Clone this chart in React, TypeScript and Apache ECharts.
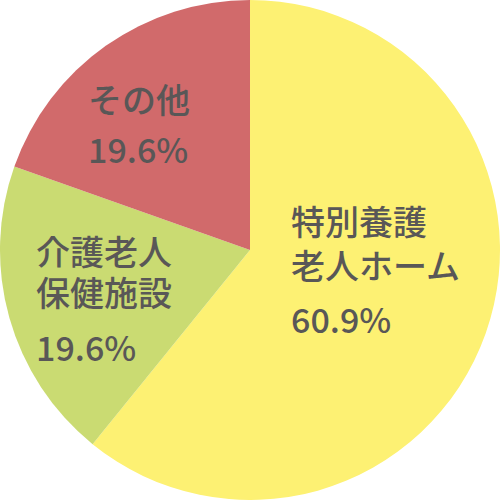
// 円グラフ：施設の種類別の割合（特養・老健・その他）
import { useEffect, useRef } from 'react'
import * as echarts from 'echarts'

const CATEGORIES = ['特別養護\n老人ホーム', '介護老人\n保健施設', 'その他']
const VALUES = [60.9, 19.6, 19.6]
const COLORS = ['#fdf173', '#cadb72', '#d16a6b']

// ラベルの置き場所（左端の x、名前の1行目の中心 y、行の高さ、パーセント行の中心 y）
const LABEL_POS = [
  { x: 291, nameY: 223, lineH: 44, pctY: 318 },
  { x: 36, nameY: 253, lineH: 41, pctY: 346 },
  { x: 88, nameY: 101, lineH: 44, pctY: 148 },
]

const TEXT_COLOR = '#595757'
const FONT = '"Noto Sans CJK JP", sans-serif'
// 名前の行：行送りが詰まっているので、行の箱が低いフォントを先頭に置く（漢字・かなは Noto に落ちる）
const NAME_FONT = '"DejaVu Sans", "Noto Sans CJK JP", sans-serif'

export default function App() {
  const ref = useRef<HTMLDivElement>(null)

  useEffect(() => {
    if (!ref.current) return
    const chart = echarts.init(ref.current, undefined, { renderer: 'svg' })

    // 各扇形のラベル：名前（複数行をひとつのテキストで）+ パーセント
    const labels: any[] = []
    CATEGORIES.forEach((name, i) => {
      const pos = LABEL_POS[i]
      labels.push({
        type: 'text',
        x: pos.x,
        y: pos.nameY - pos.lineH / 2,
        style: {
          text: name,
          fill: TEXT_COLOR,
          font: `500 34px ${NAME_FONT}`,
          lineHeight: pos.lineH,
          textAlign: 'left',
          textVerticalAlign: 'top',
        },
        z: 10,
      })
      labels.push({
        type: 'text',
        x: pos.x,
        y: pos.pctY,
        style: {
          text: `${VALUES[i].toFixed(1)}%`,
          fill: TEXT_COLOR,
          font: `500 34px ${FONT}`,
          textAlign: 'left',
          textVerticalAlign: 'middle',
        },
        z: 10,
      })
    })

    chart.setOption({
      animation: false,
      backgroundColor: '#ffffff',
      series: [
        {
          type: 'pie',
          center: [250, 250],
          radius: [0, 250],
          startAngle: 90,
          clockwise: true,
          label: { show: false },
          labelLine: { show: false },
          emphasis: { disabled: true },
          itemStyle: { borderWidth: 0 },
          data: CATEGORIES.map((name, i) => ({
            name,
            value: VALUES[i],
            itemStyle: { color: COLORS[i] },
          })),
        },
      ],
      graphic: labels,
    })

    return () => chart.dispose()
  }, [])

  return <div ref={ref} style={{ position: 'fixed', left: 0, top: 0, width: 500, height: 500 }} />
}
